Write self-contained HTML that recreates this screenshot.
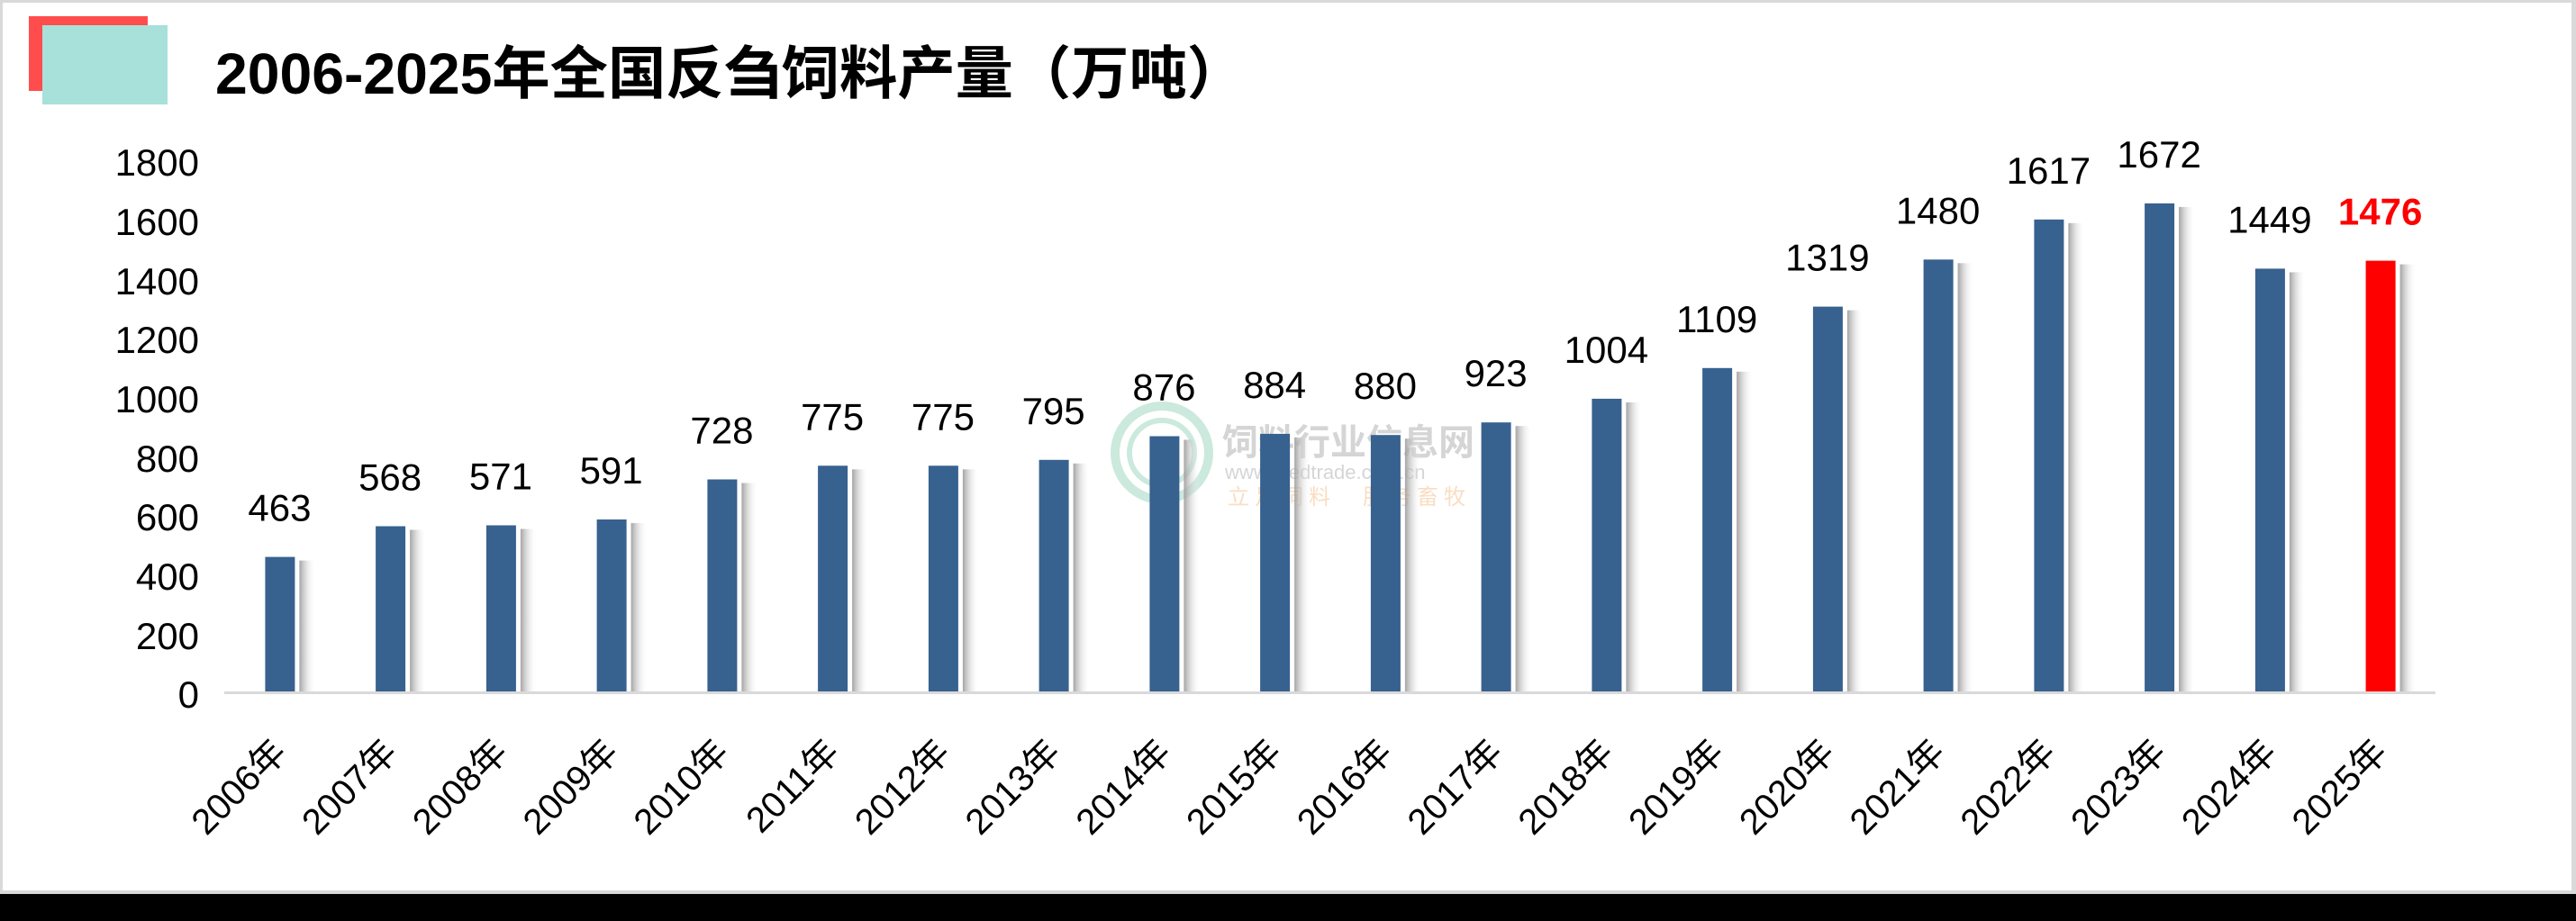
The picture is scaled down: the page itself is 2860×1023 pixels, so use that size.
<!DOCTYPE html>
<html><head><meta charset="utf-8"><style>
html,body{margin:0;padding:0;background:#fff}
svg{display:block}
.v{font-family:"Liberation Sans",sans-serif;font-size:42px;fill:#000;text-anchor:middle}
.x{font-family:"Liberation Sans","Noto Sans CJK SC",sans-serif;font-size:40px;fill:#000;text-anchor:end}
.b{fill:#37618f}
</style></head><body>
<svg width="2860" height="1023" viewBox="0 0 2860 1023" xmlns="http://www.w3.org/2000/svg">
<defs>
<linearGradient id="sh" x1="0" x2="1" y1="0" y2="0">
<stop offset="0" stop-color="#9a9a9a" stop-opacity="0.9"/>
<stop offset="1" stop-color="#ffffff" stop-opacity="0"/>
</linearGradient>
</defs>
<rect x="0" y="0" width="2860" height="1023" fill="#fff"/>
<rect x="0" y="0" width="2860" height="3" fill="#d9d9d9"/>
<rect x="0" y="0" width="3" height="992" fill="#d9d9d9"/>
<rect x="2855" y="0" width="5" height="992" fill="#d9d9d9"/>
<rect x="0" y="989" width="2860" height="4" fill="#d9d9d9"/>
<rect x="0" y="993" width="2860" height="30" fill="#000"/>
<rect x="32" y="18" width="132" height="83" fill="#ff4d4d"/>
<rect x="47" y="28" width="139" height="88" fill="#a8e0da"/>
<text x="239" y="104" font-family="Liberation Sans, Noto Sans CJK SC, sans-serif" font-weight="bold" font-size="64" fill="#000" textLength="1143" lengthAdjust="spacingAndGlyphs">2006-2025年全国反刍饲料产量（万吨）</text>
<g font-family="Liberation Sans, Noto Sans CJK SC, sans-serif" font-size="42" fill="#000" text-anchor="end">
<text x="221" y="195">1800</text><text x="221" y="261">1600</text><text x="221" y="327">1400</text>
<text x="221" y="392">1200</text><text x="221" y="458">1000</text><text x="221" y="524">800</text>
<text x="221" y="589">600</text><text x="221" y="655">400</text><text x="221" y="721">200</text>
<text x="221" y="786">0</text>
</g>
<g opacity="0.35">
<circle cx="1290" cy="503" r="52" fill="none" stroke="#6cc3a0" stroke-width="10"/>
<circle cx="1290" cy="503" r="36" fill="none" stroke="#6cc3a0" stroke-width="6"/>
<text x="1357" y="505" font-family="Noto Sans CJK SC, sans-serif" font-size="40" font-weight="bold" fill="#888">饲料行业信息网</text>
<text x="1360" y="532" font-family="Liberation Sans, sans-serif" font-size="22" fill="#888">www.feedtrade.com.cn</text>
<text x="1363" y="560" font-family="Noto Sans CJK SC, sans-serif" font-size="24" fill="#f0a050" letter-spacing="6">立足饲料　服务畜牧</text>
</g>

<g transform="translate(310.4,0)"><rect x="22" y="622.6" width="18" height="146.4" fill="url(#sh)"/><rect class="b" x="-16" y="618.6" width="33" height="150.4"/><text class="v" x="0" y="578.6">463</text><text class="x" x="10" y="838" transform="rotate(-45 10 838)">2006年</text></g>
<g transform="translate(433.1,0)"><rect x="22" y="588.5" width="18" height="180.5" fill="url(#sh)"/><rect class="b" x="-16" y="584.5" width="33" height="184.5"/><text class="v" x="0" y="544.5">568</text><text class="x" x="10" y="838" transform="rotate(-45 10 838)">2007年</text></g>
<g transform="translate(555.9,0)"><rect x="22" y="587.5" width="18" height="181.5" fill="url(#sh)"/><rect class="b" x="-16" y="583.5" width="33" height="185.5"/><text class="v" x="0" y="543.5">571</text><text class="x" x="10" y="838" transform="rotate(-45 10 838)">2008年</text></g>
<g transform="translate(678.6,0)"><rect x="22" y="581" width="18" height="188" fill="url(#sh)"/><rect class="b" x="-16" y="577" width="33" height="192"/><text class="v" x="0" y="537">591</text><text class="x" x="10" y="838" transform="rotate(-45 10 838)">2009年</text></g>
<g transform="translate(801.4,0)"><rect x="22" y="536.5" width="18" height="232.5" fill="url(#sh)"/><rect class="b" x="-16" y="532.5" width="33" height="236.5"/><text class="v" x="0" y="492.5">728</text><text class="x" x="10" y="838" transform="rotate(-45 10 838)">2010年</text></g>
<g transform="translate(924.1,0)"><rect x="22" y="521.3" width="18" height="247.7" fill="url(#sh)"/><rect class="b" x="-16" y="517.3" width="33" height="251.7"/><text class="v" x="0" y="477.3">775</text><text class="x" x="10" y="838" transform="rotate(-45 10 838)">2011年</text></g>
<g transform="translate(1046.9,0)"><rect x="22" y="521.3" width="18" height="247.7" fill="url(#sh)"/><rect class="b" x="-16" y="517.3" width="33" height="251.7"/><text class="v" x="0" y="477.3">775</text><text class="x" x="10" y="838" transform="rotate(-45 10 838)">2012年</text></g>
<g transform="translate(1169.6,0)"><rect x="22" y="514.8" width="18" height="254.2" fill="url(#sh)"/><rect class="b" x="-16" y="510.8" width="33" height="258.2"/><text class="v" x="0" y="470.8">795</text><text class="x" x="10" y="838" transform="rotate(-45 10 838)">2013年</text></g>
<g transform="translate(1292.4,0)"><rect x="22" y="488.5" width="18" height="280.5" fill="url(#sh)"/><rect class="b" x="-16" y="484.5" width="33" height="284.5"/><text class="v" x="0" y="444.5">876</text><text class="x" x="10" y="838" transform="rotate(-45 10 838)">2014年</text></g>
<g transform="translate(1415.1,0)"><rect x="22" y="485.9" width="18" height="283.1" fill="url(#sh)"/><rect class="b" x="-16" y="481.9" width="33" height="287.1"/><text class="v" x="0" y="441.9">884</text><text class="x" x="10" y="838" transform="rotate(-45 10 838)">2015年</text></g>
<g transform="translate(1537.9,0)"><rect x="22" y="487.2" width="18" height="281.8" fill="url(#sh)"/><rect class="b" x="-16" y="483.2" width="33" height="285.8"/><text class="v" x="0" y="443.2">880</text><text class="x" x="10" y="838" transform="rotate(-45 10 838)">2016年</text></g>
<g transform="translate(1660.6,0)"><rect x="22" y="473.2" width="18" height="295.8" fill="url(#sh)"/><rect class="b" x="-16" y="469.2" width="33" height="299.8"/><text class="v" x="0" y="429.2">923</text><text class="x" x="10" y="838" transform="rotate(-45 10 838)">2017年</text></g>
<g transform="translate(1783.4,0)"><rect x="22" y="446.9" width="18" height="322.1" fill="url(#sh)"/><rect class="b" x="-16" y="442.9" width="33" height="326.1"/><text class="v" x="0" y="402.9">1004</text><text class="x" x="10" y="838" transform="rotate(-45 10 838)">2018年</text></g>
<g transform="translate(1906.1,0)"><rect x="22" y="412.8" width="18" height="356.2" fill="url(#sh)"/><rect class="b" x="-16" y="408.8" width="33" height="360.2"/><text class="v" x="0" y="368.8">1109</text><text class="x" x="10" y="838" transform="rotate(-45 10 838)">2019年</text></g>
<g transform="translate(2028.9,0)"><rect x="22" y="344.6" width="18" height="424.4" fill="url(#sh)"/><rect class="b" x="-16" y="340.6" width="33" height="428.4"/><text class="v" x="0" y="300.6">1319</text><text class="x" x="10" y="838" transform="rotate(-45 10 838)">2020年</text></g>
<g transform="translate(2151.6,0)"><rect x="22" y="292.3" width="18" height="476.7" fill="url(#sh)"/><rect class="b" x="-16" y="288.3" width="33" height="480.7"/><text class="v" x="0" y="248.3">1480</text><text class="x" x="10" y="838" transform="rotate(-45 10 838)">2021年</text></g>
<g transform="translate(2274.4,0)"><rect x="22" y="247.8" width="18" height="521.2" fill="url(#sh)"/><rect class="b" x="-16" y="243.8" width="33" height="525.2"/><text class="v" x="0" y="203.8">1617</text><text class="x" x="10" y="838" transform="rotate(-45 10 838)">2022年</text></g>
<g transform="translate(2397.1,0)"><rect x="22" y="229.9" width="18" height="539.1" fill="url(#sh)"/><rect class="b" x="-16" y="225.9" width="33" height="543.1"/><text class="v" x="0" y="185.9">1672</text><text class="x" x="10" y="838" transform="rotate(-45 10 838)">2023年</text></g>
<g transform="translate(2519.9,0)"><rect x="22" y="302.4" width="18" height="466.6" fill="url(#sh)"/><rect class="b" x="-16" y="298.4" width="33" height="470.6"/><text class="v" x="0" y="258.4">1449</text><text class="x" x="10" y="838" transform="rotate(-45 10 838)">2024年</text></g>
<g transform="translate(2642.6,0)"><rect x="22" y="293.6" width="18" height="475.4" fill="url(#sh)"/><rect x="-16" y="289.6" width="33" height="479.4" fill="#ff0000"/><text class="v" x="0" y="249.6" style="fill:#ff0000;font-weight:bold">1476</text><text class="x" x="10" y="838" transform="rotate(-45 10 838)">2025年</text></g>

<rect x="249" y="768" width="2455" height="3" fill="#d9d9d9"/>
</svg>
</body></html>
